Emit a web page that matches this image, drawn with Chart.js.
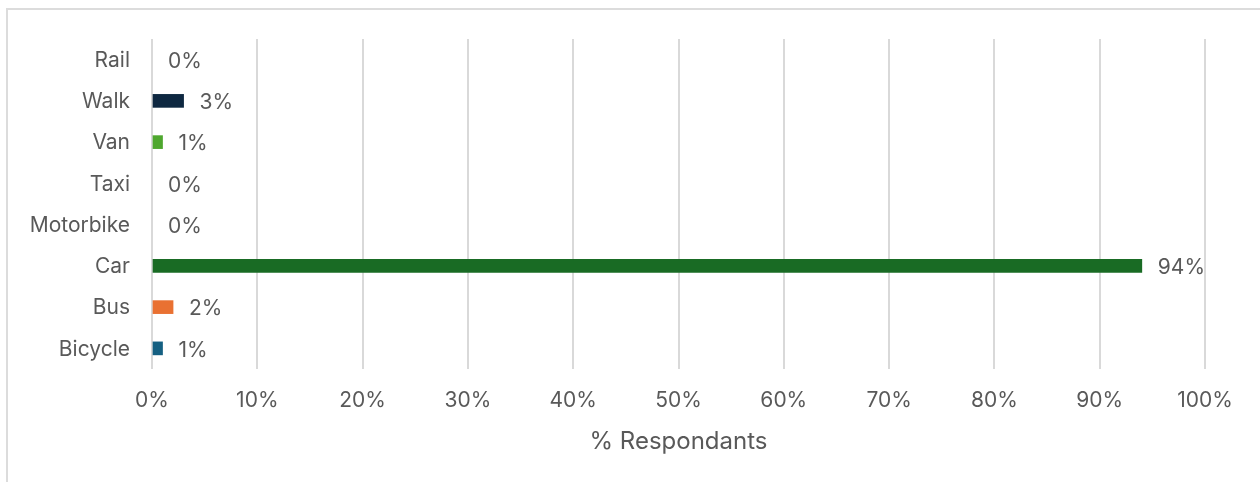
<!DOCTYPE html>
<html>
<head>
<meta charset="utf-8">
<script src="https://cdn.jsdelivr.net/npm/chart.js@4/dist/chart.umd.min.js"></script>
<style>
  html, body { margin: 0; padding: 0; background: #ffffff; overflow: hidden; }
  #wrap { position: relative; width: 1260px; height: 482px; }
  #frame { position: absolute; left: 6px; top: 8px; width: 1300px; height: 600px;
           border-top: 2px solid #dcdcdc; border-left: 2px solid #dcdcdc; box-sizing: border-box; }
  canvas { position: absolute; left: 0; top: 0; }
</style>
</head>
<body>
<div id="wrap">
  <div id="frame"></div>
  <canvas id="c" width="1260" height="482"></canvas>
</div>
<script>
const categories = ["Rail", "Walk", "Van", "Taxi", "Motorbike", "Car", "Bus", "Bicycle"];
const values = [0, 3, 1, 0, 0, 94, 2, 1];
const barColors = ["#156082", "#0e2841", "#4ea72e", "#a02b93", "#0f9ed5", "#196b24", "#e97132", "#156082"];
const xTicks = [0, 10, 20, 30, 40, 50, 60, 70, 80, 90, 100];
const axisTitle = "% Respondants";

const FONT = "Inter, 'Open Sans', sans-serif";
const TEXT = "#595959";

const valueLabels = {
  id: "valueLabels",
  afterDatasetsDraw(chart) {
    const ctx = chart.ctx;
    const meta = chart.getDatasetMeta(0);
    ctx.save();
    ctx.font = "21px " + FONT;
    ctx.fillStyle = TEXT;
    ctx.textAlign = "left";
    ctx.textBaseline = "middle";
    meta.data.forEach((el, i) => {
      ctx.fillText(values[i] + "%", el.x + 16, el.y + 2);
    });
    ctx.restore();
  }
};

new Chart(document.getElementById("c"), {
  type: "bar",
  data: {
    labels: categories,
    datasets: [{
      data: values,
      backgroundColor: c => (values[c.dataIndex] === 0 ? "rgba(0,0,0,0)" : barColors[c.dataIndex]),
      borderWidth: 0,
      barThickness: 13
    }]
  },
  options: {
    indexAxis: "y",
    responsive: false,
    animation: false,
    devicePixelRatio: 1,
    layout: { padding: { left: 0, right: 55, top: 39, bottom: 22 } },
    plugins: { legend: { display: false }, tooltip: { enabled: false } },
    scales: {
      x: {
        min: 0, max: 100,
        afterBuildTicks(scale) { scale.ticks = xTicks.map(v => ({ value: v })); },
        afterFit(scale) { scale.height = 91; },
        grid: { color: "#d9d9d9", lineWidth: 2, drawTicks: false },
        border: { display: false },
        ticks: {
          padding: 19,
          color: TEXT,
          font: { family: FONT, size: 21 },
          callback: v => v + "%",
          maxRotation: 0
        },
        title: {
          display: true,
          text: axisTitle,
          color: TEXT,
          font: { family: FONT, size: 24 },
          padding: { top: 4, bottom: 4 }
        }
      },
      y: {
        afterFit(scale) { scale.width = 152; },
        grid: { display: false, drawTicks: false },
        border: { display: false },
        ticks: {
          padding: 22,
          labelOffset: 1,
          color: TEXT,
          font: { family: FONT, size: 21 }
        }
      }
    }
  },
  plugins: [valueLabels]
});
</script>
</body>
</html>
